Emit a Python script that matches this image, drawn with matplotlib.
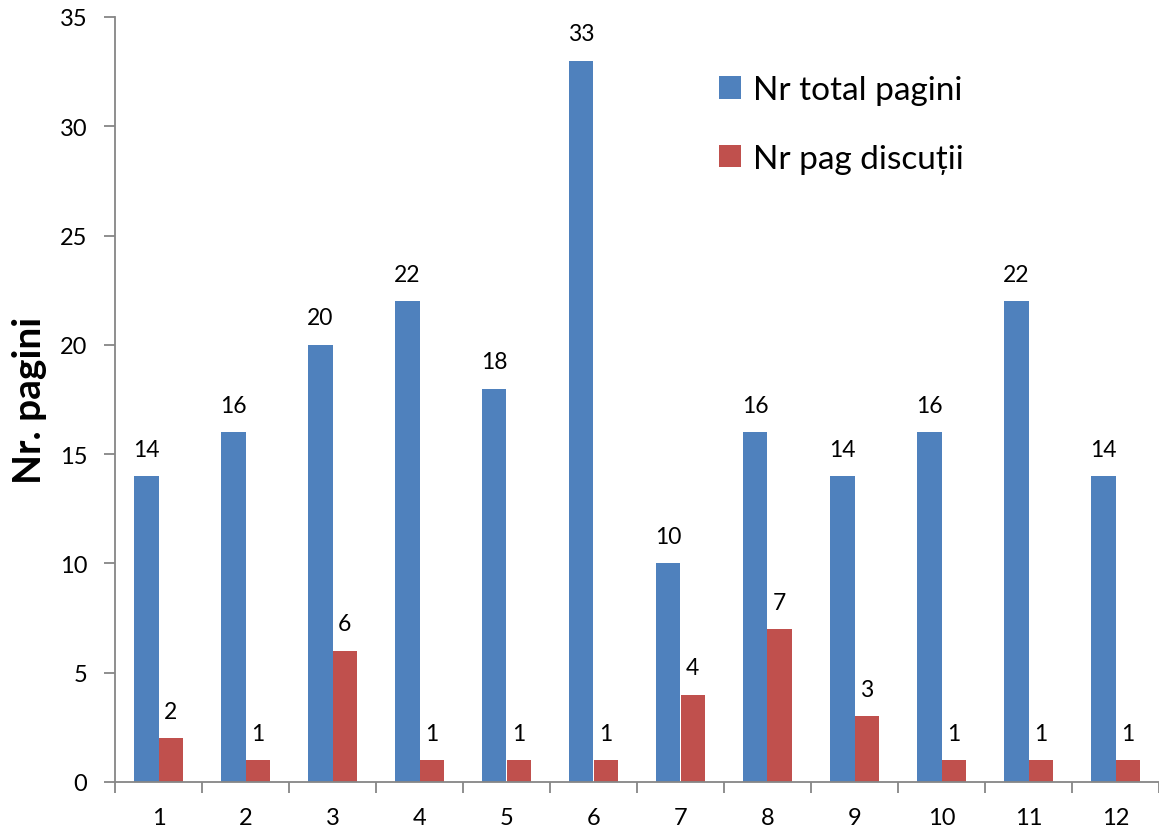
import matplotlib.pyplot as plt
import numpy as np

# Data
categories = [str(i) for i in range(1, 13)]
total_pages = [14, 16, 20, 22, 18, 33, 10, 16, 14, 16, 22, 14]
discussion_pages = [2, 1, 6, 1, 1, 1, 4, 7, 3, 1, 1, 1]

plt.rcParams['font.family'] = ['Lato', 'DejaVu Sans']

fig = plt.figure(figsize=(11.59, 8.28), dpi=100)
ax = fig.add_axes([115 / 1159, 1 - 783 / 828, 1 - 115 / 1159, (783 - 18) / 828])

x = np.arange(1, len(categories) + 1)
w = 0.284
b1 = ax.bar(x - w / 2, total_pages, w, color='#4F81BD', label='Nr total pagini')
b2 = ax.bar(x + w / 2, discussion_pages, w, color='#C0504D', label='Nr pag discuții')

for bars in (b1, b2):
    for rect in bars:
        h = rect.get_height()
        ax.text(rect.get_x() + rect.get_width() / 2, h + 0.75, str(int(h)),
                ha='center', va='bottom', fontsize=16.5)

ax.set_xlim(0.5, 12.36)
ax.set_ylim(0, 35)
ax.set_yticks(range(0, 36, 5))
ax.set_xticks(np.arange(0.5, 12.6, 1))
ax.set_xticklabels([])
ax.set_xticks(x, minor=True)
ax.set_xticklabels(categories, minor=True)
ax.tick_params(axis='x', which='minor', length=0, labelsize=17, pad=18)
ax.tick_params(axis='x', which='major', length=8, color='#868686', width=1.3)
ax.tick_params(axis='y', length=8, color='#868686', width=1.3, labelsize=17, pad=12)

for s in ('top', 'right'):
    ax.spines[s].set_visible(False)
for s in ('left', 'bottom'):
    ax.spines[s].set_color('#868686')
    ax.spines[s].set_linewidth(1.3)

ax.set_ylabel('Nr. pagini', fontsize=28, fontweight='bold', labelpad=9)

ax.legend(loc='upper left', bbox_to_anchor=(0.550, 0.963), frameon=False,
          fontsize=24, handlelength=0.65, handleheight=0.65, labelspacing=1.15,
          handletextpad=0.35)

plt.savefig('out.png', dpi=100)
